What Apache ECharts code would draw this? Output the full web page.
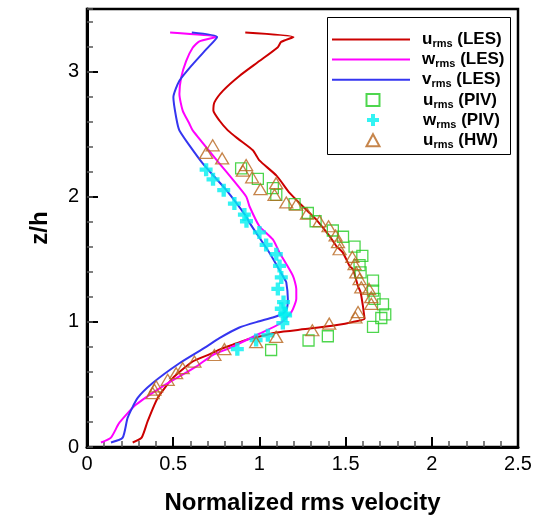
<!DOCTYPE html>
<html>
<head>
<meta charset="utf-8">
<script src="https://cdn.jsdelivr.net/npm/echarts@6/dist/echarts.min.js"></script>
<style>html,body{margin:0;padding:0;background:#fff}#c{width:541px;height:520px}</style>
</head>
<body>
<div id="c"></div>
<script>
// ---- data (x = normalized rms velocity, y = z/h) ----
var uLES = [[0.265,0.036],[0.317,0.075],[0.352,0.207],[0.41,0.392],[0.497,0.550],[0.613,0.683],[0.710,0.740],[0.768,0.778],[0.846,0.818],[0.923,0.856],[1.039,0.895],[1.097,0.915],[1.291,0.946],[1.45,0.975],[1.542,0.999],[1.61,1.025],[1.605,1.08],[1.600,1.131],[1.587,1.237],[1.571,1.289],[1.543,1.42],[1.523,1.447],[1.484,1.553],[1.446,1.606],[1.407,1.685],[1.330,1.817],[1.291,1.87],[1.214,1.975],[1.175,2.03],[1.098,2.17],[1.0,2.29],[0.962,2.371],[0.875,2.464],[0.817,2.530],[0.768,2.609],[0.733,2.688],[0.739,2.754],[0.788,2.846],[0.884,2.965],[1.0,3.084],[1.107,3.195],[1.126,3.237],[1.198,3.277],[0.918,3.313]];
var wLES = [[0.081,0.036],[0.139,0.075],[0.188,0.194],[0.285,0.339],[0.439,0.485],[0.633,0.643],[0.729,0.735],[0.826,0.790],[1.0,0.905],[1.117,0.985],[1.175,1.06],[1.194,1.10],[1.214,1.184],[1.214,1.263],[1.194,1.37],[1.117,1.553],[1.078,1.659],[1.0,1.764],[0.943,1.922],[0.923,2.002],[0.768,2.266],[0.613,2.53],[0.594,2.583],[0.555,2.688],[0.536,2.82],[0.546,2.952],[0.575,3.084],[0.613,3.19],[0.652,3.242],[0.749,3.277],[0.482,3.313]];
var vLES = [[0.139,0.036],[0.207,0.075],[0.236,0.234],[0.294,0.392],[0.381,0.511],[0.536,0.669],[0.691,0.80],[0.768,0.870],[0.884,0.955],[1.0,1.005],[1.078,1.035],[1.140,1.07],[1.160,1.11],[1.165,1.184],[1.156,1.316],[1.146,1.342],[1.059,1.55],[0.943,1.791],[0.923,1.843],[0.807,2.055],[0.671,2.266],[0.536,2.530],[0.517,2.635],[0.501,2.794],[0.536,2.926],[0.613,3.058],[0.691,3.177],[0.755,3.277],[0.608,3.313]];
var uPIV = [[1.068,0.775],[1.285,0.851],[1.397,0.885],[1.659,0.960],[1.707,1.031],[1.730,1.060],[1.717,1.139],[1.668,1.184],[1.659,1.250],[1.659,1.329],[1.587,1.395],[1.581,1.453],[1.597,1.527],[1.552,1.601],[1.485,1.680],[1.426,1.730],[1.326,1.804],[1.281,1.870],[1.204,1.941],[1.098,2.015],[1.078,2.068],[0.991,2.142],[0.894,2.226]];
var wPIV = [[0.691,2.216],[0.731,2.139],[0.793,2.052],[0.855,1.945],[0.913,1.857],[0.925,1.804],[1.0,1.715],[1.039,1.615],[1.098,1.540],[1.117,1.447],[1.127,1.355],[1.107,1.263],[1.140,1.158],[1.127,1.105],[1.152,1.052],[1.146,1.065],[1.136,0.99],[1.049,0.893],[0.981,0.855],[0.872,0.782]];
var uHW = [[0.381,0.431],[0.391,0.458],[0.401,0.485],[0.468,0.537],[0.517,0.590],[0.555,0.630],[0.623,0.683],[0.739,0.735],[0.797,0.782],[0.981,0.838],[1.097,0.880],[1.307,0.933],[1.405,0.986],[1.557,1.035],[1.572,1.078],[1.649,1.144],[1.649,1.197],[1.636,1.263],[1.591,1.276],[1.581,1.342],[1.562,1.395],[1.552,1.461],[1.539,1.519],[1.465,1.580],[1.456,1.637],[1.442,1.690],[1.401,1.764],[1.349,1.804],[1.276,1.865],[1.213,1.936],[1.156,1.954],[1.088,2.015],[1.097,2.108],[1.006,2.060],[0.958,2.155],[0.904,2.208],[0.923,2.253],[0.784,2.306],[0.691,2.350],[0.729,2.411]];
var seriesNames = ['u_rms (LES)','w_rms (LES)','v_rms (LES)','u_rms (PIV)','w_rms (PIV)','u_rms (HW)'];
var xTicks = [0, 0.5, 1, 1.5, 2, 2.5];
var yTicks = [0, 1, 2, 3];

var FONT = 'Liberation Sans, Arial, sans-serif';
var crossPath = 'path://M4,0H8V4H12V8H8V12H4V8H0V4H4Z';

var chart = echarts.init(document.getElementById('c'), null, {renderer: 'canvas'});
function lineSeries(name, data, color) {
  return {name: name, type: 'line', data: data, symbol: 'none', smooth: 0.2, z: 2,
    lineStyle: {color: color, width: 2}, itemStyle: {color: color}};
}
function scatterSeries(name, data, symbol, size, style) {
  return {name: name, type: 'scatter', data: data, symbol: symbol, symbolSize: size, z: 3, itemStyle: style};
}
function fmt(n) {
  var m = n.match(/^(\w)_rms (.*)$/);
  return '{g| }{b|' + m[1] + '}{s|rms}{b| ' + m[2] + '}';
}
function legendText(gap) {
  return {
    color: '#000',
    rich: {
      g: {width: gap, fontSize: 17, lineHeight: 20},
      b: {fontSize: 17, fontWeight: 'bold', fontFamily: FONT, color: '#000', lineHeight: 20},
      s: {fontSize: 11, fontWeight: 'bold', fontFamily: FONT, color: '#000', lineHeight: 10, verticalAlign: 'bottom'}
    }
  };
}
chart.setOption({
  animation: false,
  backgroundColor: '#fff',
  grid: {left: 87, right: 23, top: 9, bottom: 70, show: true, borderColor: '#000', borderWidth: 2.5, backgroundColor: 'transparent'},
  graphic: [{type: 'rect', left: 327, top: 17, z: 5,
    shape: {width: 183, height: 137}, style: {fill: '#fff', stroke: '#000', lineWidth: 1}}],
  legend: [{
    orient: 'vertical', left: 332, top: 31, padding: 0, z: 10,
    itemWidth: 78, itemHeight: 2, itemGap: 1.6,
    data: seriesNames.slice(0, 3).map(function (n) { return {name: n, icon: 'rect'}; }),
    formatter: fmt, textStyle: legendText(7)
  }, {
    orient: 'vertical', left: 365.5, top: 91.5, padding: 0, z: 10,
    itemWidth: 13, itemHeight: 12, itemGap: 1.6,
    data: seriesNames.slice(3),
    formatter: fmt, textStyle: legendText(38.5)
  }],
  xAxis: {
    type: 'value', min: xTicks[0], max: xTicks[xTicks.length - 1], interval: 0.5,
    name: 'Normalized rms velocity', nameLocation: 'middle', nameGap: 44,
    nameTextStyle: {fontSize: 24, fontWeight: 'bold', fontFamily: FONT, color: '#000'},
    axisLine: {show: true, lineStyle: {color: '#000', width: 3}},
    axisTick: {show: true, inside: true, length: 10, lineStyle: {color: '#000', width: 2}},
    minorTick: {show: true, splitNumber: 5, length: 6, lineStyle: {color: '#555', width: 1.5}},
    axisLabel: {fontSize: 20, fontFamily: FONT, color: '#000', margin: 7},
    splitLine: {show: false}
  },
  yAxis: [{
    type: 'value', min: 0, max: 3.5, interval: 1, position: 'left',
    name: 'z/h', nameLocation: 'middle', nameGap: 35,
    nameTextStyle: {fontSize: 24, fontWeight: 'bold', fontFamily: FONT, color: '#000'},
    axisLine: {show: true, lineStyle: {color: '#000', width: 3}},
    axisTick: {show: true, inside: true, length: 11, lineStyle: {color: '#000', width: 2}},
    axisLabel: {fontSize: 20, fontFamily: FONT, color: '#000', margin: 8, showMaxLabel: false,
      formatter: function (v) { return yTicks.indexOf(v) >= 0 ? String(v) : ''; }},
    splitLine: {show: false}
  }, {
    type: 'value', min: 0, max: 3.5, interval: 0.2, position: 'left', offset: 0,
    axisLine: {show: false},
    axisTick: {show: true, inside: true, length: 6, lineStyle: {color: '#555', width: 1.5}},
    axisLabel: {show: false},
    splitLine: {show: false}
  }],
  series: [
    lineSeries(seriesNames[0], uLES, '#cc0000'),
    lineSeries(seriesNames[1], wLES, '#ff00ff'),
    lineSeries(seriesNames[2], vLES, '#3535f0'),
    scatterSeries(seriesNames[3], uPIV, 'rect', 11, {color: 'rgba(0,0,0,0)', borderColor: '#22cc22', borderWidth: 1.3}),
    scatterSeries(seriesNames[4], wPIV, crossPath, 13, {color: '#00f0f0', borderWidth: 0}),
    scatterSeries(seriesNames[5], uHW, 'triangle', [13, 11], {color: 'rgba(0,0,0,0)', borderColor: '#b8661e', borderWidth: 1.3})
  ]
});
</script>
</body>
</html>
